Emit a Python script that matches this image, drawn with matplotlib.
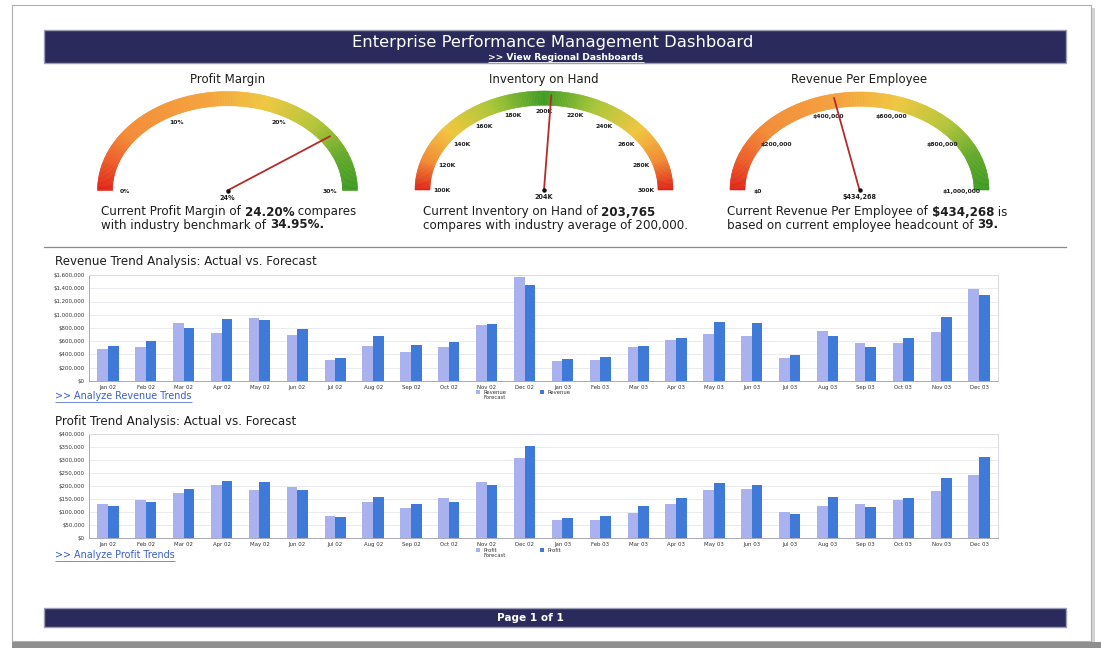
import numpy as np
import matplotlib
matplotlib.use("Agg")
import matplotlib.pyplot as plt
from matplotlib.patches import Rectangle
from matplotlib.collections import PolyCollection
from matplotlib.colors import LinearSegmentedColormap
from matplotlib.ticker import FuncFormatter

# ---------------- data ----------------
months = ["Jan 02", "Feb 02", "Mar 02", "Apr 02", "May 02", "Jun 02", "Jul 02", "Aug 02",
          "Sep 02", "Oct 02", "Nov 02", "Dec 02", "Jan 03", "Feb 03", "Mar 03", "Apr 03",
          "May 03", "Jun 03", "Jul 03", "Aug 03", "Sep 03", "Oct 03", "Nov 03", "Dec 03"]

revenue_forecast = [490000, 515000, 880000, 717000, 955000, 700000, 313000, 530000,
                    440000, 515000, 843000, 1576000, 308000, 323000, 515000, 626000,
                    702000, 677000, 354000, 753000, 576000, 576000, 737000, 1389000]
revenue_actual = [525000, 600000, 800000, 930000, 915000, 790000, 350000, 680000,
                  545000, 585000, 860000, 1452000, 338000, 369000, 530000, 652000,
                  894000, 869000, 389000, 677000, 515000, 652000, 970000, 1298000]

profit_forecast = [132000, 145000, 174000, 203000, 186000, 197000, 84000, 139000,
                   116000, 153000, 217000, 308000, 71000, 68000, 98000, 130000,
                   184000, 189000, 100000, 122000, 129000, 148000, 181000, 244000]
profit_actual = [122000, 138000, 189000, 220000, 217000, 184000, 81000, 159000,
                 129000, 138000, 204000, 353000, 78000, 86000, 122000, 153000,
                 212000, 204000, 93000, 158000, 120000, 153000, 229000, 310000]

revenue_ticks = [0, 200000, 400000, 600000, 800000, 1000000, 1200000, 1400000, 1600000]
profit_ticks = [0, 50000, 100000, 150000, 200000, 250000, 300000, 350000, 400000]

pm_min, pm_max, pm_value = 0, 30, 24.20
pm_ticks = [0, 10, 20, 30]
pm_tick_labels = ["0%", "10%", "20%", "30%"]
pm_value_label = "24%"

inv_min, inv_max, inv_value = 100000, 300000, 203765
inv_ticks = [100000, 120000, 140000, 160000, 180000, 200000, 220000, 240000, 260000, 280000, 300000]
inv_tick_labels = ["100K", "120K", "140K", "160K", "180K", "200K", "220K", "240K", "260K", "280K", "300K"]
inv_value_label = "204K"

rpe_min, rpe_max, rpe_value = 0, 1000000, 434268
rpe_ticks = [0, 200000, 400000, 600000, 800000, 1000000]
rpe_tick_labels = ["$0", "$200,000", "$400,000", "$600,000", "$800,000", "$1,000,000"]
rpe_value_label = "$434,268"

# ---------------- figure ----------------
W, H = 1101, 648
fig = plt.figure(figsize=(W / 100, H / 100), dpi=100)
fig.patch.set_facecolor("white")
bg = fig.add_axes([0, 0, 1, 1])
bg.set_xlim(0, W)
bg.set_ylim(H, 0)
bg.axis("off")
renderer = fig.canvas.get_renderer()

NAVY = "#2b2a5c"
TXT = "#1e1e1e"
LIGHT = "#a9b2ef"
DARK = "#3f7ad8"
LINK = "#3a5fcd"

# page frame & shadow
bg.add_patch(Rectangle((12, 5), 1079, 636, fill=False, ec="#b0b0b0", lw=0.8))
bg.add_patch(Rectangle((12, 642), 1089, 6, fc="#8e8e8e", ec="none"))
bg.add_patch(Rectangle((1092, 8), 3, 634, fc="#d2d2d2", ec="none"))

# header
bg.add_patch(Rectangle((44, 30), 1022, 33, fc=NAVY, ec="#9c9cb4", lw=1))
bg.text(553, 43, "Enterprise Performance Management Dashboard", color="white",
        fontsize=11.8, ha="center", va="center")


def underline(t, color, off=1.0, lw=0.7):
    bb = t.get_window_extent(renderer)
    y = H - bb.y0 + off
    bg.plot([bb.x0, bb.x1], [y, y], color=color, lw=lw, solid_capstyle="butt")


st = bg.text(566, 57, ">> View Regional Dashboards", color="white", fontsize=6.6,
             fontweight="bold", ha="center", va="center")
underline(st, "white", 0.3, 0.6)

# footer
bg.add_patch(Rectangle((44, 608), 1022, 19, fc=NAVY, ec="#9c9cb4", lw=1))
bg.text(530, 618, "Page 1 of 1", color="white", fontsize=7.6, fontweight="bold",
        ha="center", va="center")

# separator
bg.plot([44, 1066], [247, 247], color="#8a8a8a", lw=0.9)


# ---------------- gauges ----------------
def gauge(cx, cy, rx, ry, thick, cmap, vmin, vmax, value, ticks, labels, vlabel, title):
    n = 240
    th = np.linspace(np.pi, 0, n + 1)
    polys, cols = [], []
    tx = thick
    ty = thick * 0.95
    for i in range(n):
        a0, a1 = th[i], th[i + 1]
        poly = [(cx + rx * np.cos(a0), cy - ry * np.sin(a0)),
                (cx + rx * np.cos(a1), cy - ry * np.sin(a1)),
                (cx + (rx - tx) * np.cos(a1), cy - (ry - ty) * np.sin(a1)),
                (cx + (rx - tx) * np.cos(a0), cy - (ry - ty) * np.sin(a0))]
        polys.append(poly)
        cols.append(cmap((i + 0.5) / n))
    bg.add_collection(PolyCollection(polys, facecolors=cols, edgecolors=cols, linewidths=0.4))
    for v, lab in zip(ticks, labels):
        f = (v - vmin) / (vmax - vmin)
        a = np.pi * (1 - f)
        r = 0.79
        x = cx + r * rx * np.cos(a)
        y = cy - r * ry * np.sin(a)
        if f in (0, 1):
            y = cy + 1
        bg.text(x, y, lab, fontsize=4.4, fontweight="bold", color=TXT, ha="center", va="center")
    f = (value - vmin) / (vmax - vmin)
    a = np.pi * (1 - f)
    bg.plot([cx, cx + 0.96 * rx * np.cos(a)], [cy, cy - 0.96 * ry * np.sin(a)],
            color="#b52a2a", lw=1.3, solid_capstyle="round", zorder=5)
    bg.plot([cx], [cy], "o", ms=2.2, color="#111111", zorder=6)
    bg.text(cx, cy + 7, vlabel, fontsize=4.7, fontweight="bold", color=TXT, ha="center", va="center")
    bg.text(cx, 80, title, fontsize=8.5, color=TXT, ha="center", va="center")


pm_cmap = LinearSegmentedColormap.from_list("pm", [
    (0.0, "#df2316"), (0.1, "#ec5a26"), (0.2, "#f38a36"), (0.45, "#f4a23c"),
    (0.6, "#efc73e"), (0.75, "#b4c537"), (0.88, "#62a92a"), (1.0, "#3d9a1f")])
inv_cmap = LinearSegmentedColormap.from_list("inv", [
    (0.0, "#df2316"), (0.1, "#f08a32"), (0.22, "#f1c63c"), (0.36, "#a9c637"),
    (0.5, "#3f9c22"), (0.64, "#a9c637"), (0.78, "#f1c63c"), (0.9, "#f08a32"), (1.0, "#df2316")])
rpe_cmap = LinearSegmentedColormap.from_list("rpe", [
    (0.0, "#df2316"), (0.1, "#ec5a26"), (0.22, "#f38a36"), (0.45, "#f4a23c"),
    (0.6, "#efc73e"), (0.75, "#b4c537"), (0.88, "#62a92a"), (1.0, "#3d9a1f")])

gauge(227.5, 190.5, 130, 99, 15, pm_cmap, pm_min, pm_max, pm_value,
      pm_ticks, pm_tick_labels, pm_value_label, "Profit Margin")
gauge(544, 190, 129, 99, 15, inv_cmap, inv_min, inv_max, inv_value,
      inv_ticks, inv_tick_labels, inv_value_label, "Inventory on Hand")
gauge(859.5, 190, 129.5, 98, 15, rpe_cmap, rpe_min, rpe_max, rpe_value,
      rpe_ticks, rpe_tick_labels, rpe_value_label, "Revenue Per Employee")


def rich(x, y, parts, size=8.55):
    cur = x
    for s, b in parts:
        t = bg.text(cur, y, s, fontsize=size, fontweight="bold" if b else "normal",
                    color=TXT, ha="left", va="center")
        bb = t.get_window_extent(renderer)
        cur = bb.x1


rich(101, 212, [("Current Profit Margin of ", False), ("24.20%", True), (" compares", False)])
rich(101, 225, [("with industry benchmark of ", False), ("34.95%.", True)])
rich(423, 212, [("Current Inventory on Hand of ", False), ("203,765", True)])
rich(423, 225, [("compares with industry average of 200,000.", False)])
rich(727, 212, [("Current Revenue Per Employee of ", False), ("$434,268", True), (" is", False)])
rich(727, 225, [("based on current employee headcount of ", False), ("39.", True)])


# ---------------- bar charts ----------------
def bar_chart(top, bottom, title, title_y, fc, ac, ticks, link, link_y, leg_y, lab_f, lab_a):
    ax = fig.add_axes([89 / W, 1 - bottom / H, (998 - 89) / W, (bottom - top) / H])
    x = np.arange(len(months))
    w = 0.28
    ax.bar(x - w / 2, fc, width=w, color=LIGHT, zorder=3)
    ax.bar(x + w / 2, ac, width=w, color=DARK, zorder=3)
    ax.set_xlim(-0.5, len(months) - 0.5)
    ax.set_ylim(ticks[0], ticks[-1])
    ax.set_yticks(ticks)
    ax.yaxis.set_major_formatter(FuncFormatter(lambda v, p: "${:,.0f}".format(v)))
    ax.set_xticks(x)
    ax.set_xticklabels(months)
    ax.tick_params(axis="both", length=0, labelsize=3.9, colors="#333333", pad=3)
    ax.grid(axis="y", color="#e6e6ec", lw=0.6, zorder=0)
    ax.set_axisbelow(True)
    for s in ("top", "right"):
        ax.spines[s].set_color("#d8d8e0")
        ax.spines[s].set_linewidth(0.7)
    for s in ("left", "bottom"):
        ax.spines[s].set_color("#a8a8b8")
        ax.spines[s].set_linewidth(0.7)
    bg.text(55, title_y, title, fontsize=8.6, color=TXT, ha="left", va="center")
    lt = bg.text(55, link_y, link, fontsize=6.9, color=LINK, ha="left", va="center")
    underline(lt, LINK, 0.5, 0.5)
    # legend
    bg.add_patch(Rectangle((476, leg_y - 2), 4, 4, fc=LIGHT, ec="none"))
    bg.text(484, leg_y - 2, lab_f, fontsize=3.8, color="#333333", ha="left", va="top",
            linespacing=1.1)
    bg.add_patch(Rectangle((540, leg_y - 2), 4, 4, fc=DARK, ec="none"))
    bg.text(548, leg_y - 2, lab_a, fontsize=3.8, color="#333333", ha="left", va="top")
    return ax


bar_chart(275, 381, "Revenue Trend Analysis: Actual vs. Forecast", 262,
          revenue_forecast, revenue_actual, revenue_ticks,
          ">> Analyze Revenue Trends", 396, 392, "Revenue\nForecast", "Revenue")
bar_chart(434, 538, "Profit Trend Analysis: Actual vs. Forecast", 421,
          profit_forecast, profit_actual, profit_ticks,
          ">> Analyze Profit Trends", 555, 550, "Profit\nForecast", "Profit")

fig.savefig("out.png", dpi=100)
